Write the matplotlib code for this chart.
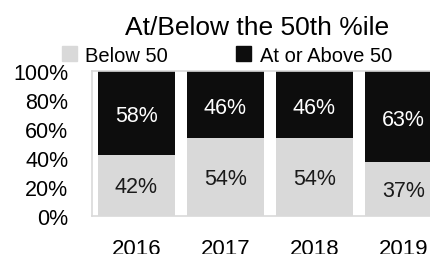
import numpy as np
import matplotlib
matplotlib.use("Agg")
import matplotlib.pyplot as plt
from matplotlib.patches import Patch

plt.rcParams['font.family'] = ['Liberation Sans', 'DejaVu Sans']

# data
years = ["2016", "2017", "2018", "2019"]
below = [42, 54, 54, 37]
above = [58, 46, 46, 63]

light = "#d9d9d9"
dark = "#0d0d0d"

fig = plt.figure(figsize=(4.31, 2.55), dpi=100)
ax = fig.add_axes([92 / 431, 1 - 217 / 255, 356 / 431, 145 / 255])

x = np.arange(len(years))
w = 0.855
ax.bar(x, below, w, color=light)
ax.bar(x, above, w, bottom=below, color=dark)

# value labels
for i in range(len(years)):
    ax.text(x[i], below[i] / 2 - 1, f"{below[i]}%", ha="center", va="center",
            fontsize=15.5, color="#1a1a1a")
    ax.text(x[i], below[i] + above[i] / 2 - 2, f"{above[i]}%", ha="center", va="center",
            fontsize=15.5, color="white")

ax.set_xlim(-0.5, 3.5)
ax.set_ylim(0, 100)
ax.set_yticks([0, 20, 40, 60, 80, 100])
ax.set_yticklabels([f"{v}%" for v in [0, 20, 40, 60, 80, 100]])
ax.set_xticks(x)
ax.set_xticklabels(years)
ax.tick_params(axis="both", length=0, labelsize=15.5)
ax.tick_params(axis="y", pad=17)
ax.tick_params(axis="x", pad=16, labelsize=16)
for s in ax.spines.values():
    s.set_color(light)
    s.set_linewidth(1.2)
ax.spines["right"].set_visible(False)

fig.text(257 / 431, 1 - 35 / 255, "At/Below the 50th %ile", ha="center", va="baseline",
         fontsize=19)

handles = [Patch(color=light, label="Below 50"), Patch(color=dark, label="At or Above 50")]
fig.legend(handles=handles, ncol=2, loc="center left", bbox_to_anchor=(62 / 431, 1 - 56 / 255),
           frameon=False, fontsize=14.5, handlelength=0.75, handleheight=0.75,
           handletextpad=0.4, columnspacing=3.4, borderaxespad=0, borderpad=0)

fig.savefig("out.png", dpi=100)
